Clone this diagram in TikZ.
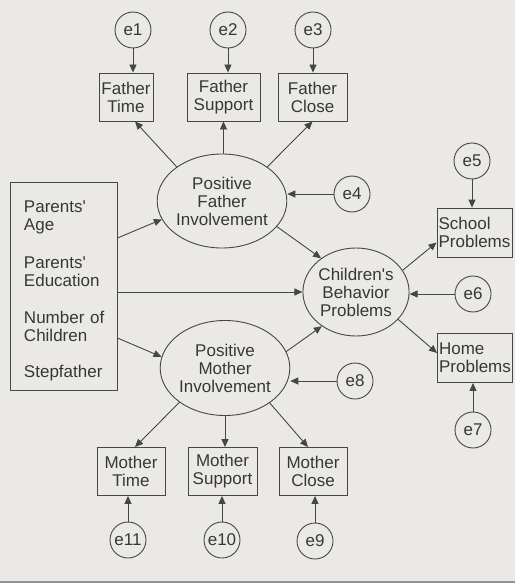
\documentclass[tikz,border=0pt]{standalone}
\usepackage{fontspec}
\setmainfont{Liberation Sans}
\usetikzlibrary{arrows.meta,shapes.geometric}
\definecolor{bg}{RGB}{234,233,229}
\definecolor{ink}{RGB}{70,70,70}
\definecolor{txt}{RGB}{55,55,55}
\begin{document}
\begin{tikzpicture}[x=1pt,y=-1pt,
  every node/.style={font=\fontsize{17}{18}\selectfont, text=txt},
  obs/.style={draw=ink, line width=0.9pt, rectangle, inner sep=0pt, minimum height=48pt, align=center},
  lat/.style={draw=ink, line width=0.9pt, ellipse, inner sep=0pt, align=center},
  err/.style={draw=ink, line width=0.9pt, circle, inner sep=0pt, minimum size=36pt},
  arr/.style={draw=ink, line width=0.9pt, -{Triangle[length=8pt,width=7pt]}},
]
\fill[bg] (0,0) rectangle (515,583);
\useasboundingbox (0,0) rectangle (515,583);

% error terms
\node[err] (e1) at (133,30) {e1};
\node[err] (e2) at (228,30) {e2};
\node[err] (e3) at (313,30) {e3};
\node[err] (e4) at (352,194) {e4};
\node[err] (e5) at (472,161) {e5};
\node[err] (e6) at (473,294) {e6};
\node[err] (e7) at (473,430) {e7};
\node[err] (e8) at (355,381) {e8};
\node[err] (e9) at (315,541) {e9};
\node[err] (e10) at (222,540) {e10};
\node[err] (e11) at (128,540) {e11};

% observed
\node[obs, minimum width=54pt] (ft) at (126,97) {Father\\Time};
\node[obs, minimum width=73pt] (fs) at (223.5,97) {Father\\Support};
\node[obs, minimum width=69pt] (fc) at (312.5,97) {Father\\Close};
\node[obs, minimum width=68pt] (mt) at (131,471.5) {Mother\\Time};
\node[obs, minimum width=69pt] (ms) at (222.5,471.5) {Mother\\Support};
\node[obs, minimum width=68pt] (mc) at (313,471.5) {Mother\\Close};
\node[obs, minimum width=75pt, minimum height=49pt, align=left] (sp) at (474.5,232.5) {School\\Problems};
\node[obs, minimum width=75pt, minimum height=49pt, align=left] (hp) at (475,358) {Home\\Problems};
\node[obs, minimum width=107pt, minimum height=208pt, align=left, text width=82pt] (cov) at (63.5,286)
  {\rule{0pt}{22pt}\hspace*{1.5pt}Parents\textquotesingle\\\hspace*{1.5pt}Age\\[20pt]\hspace*{1.5pt}Parents\textquotesingle\\\hspace*{1.5pt}Education\\[19pt]\hspace*{1.5pt}Number~of\\\hspace*{1.5pt}Children\\[18pt]\hspace*{1.5pt}Stepfather};

% latent
\node[lat, minimum width=112pt, minimum height=94pt] (fi) at (222,201) {Positive\\Father\\Involvement};
\node[lat, minimum width=114pt, minimum height=95pt] (mi) at (225,368) {Positive\\Mother\\Involvement};
\node[lat, minimum width=96pt, minimum height=88pt] (ch) at (356,292) {Children\textquotesingle s\\Behavior\\Problems};

% connectors
\draw[arr] (e1) -- (e1 |- ft.north);
\draw[arr] (e2) -- (e2 |- fs.north);
\draw[arr] (e3) -- (e3 |- fc.north);
\draw[arr] (fi.143) -- ([xshift=9pt]ft.south);
\draw[arr] (fs.south |- fi.north) -- (fs.south);
\draw[arr] (fi.37) -- (fc.south);
\draw[arr] (e4) -- (e4 -| fi.east);
\draw[arr] ([yshift=48pt]cov.east) -- (fi.197);
\draw[arr] (cov.east |- ch.west) -- (ch.west);
\draw[arr] ([yshift=-52pt]cov.east) -- (mi.170);
\draw[arr] (fi.335) -- (ch.136);
\draw[arr] (mi.15) -- (ch.225);
\draw[arr] (e6) -- (e6 -| ch.east);
\draw[arr] (ch.25) -- ([yshift=-10pt]sp.west);
\draw[arr] (ch.327) -- ([yshift=5pt]hp.west);
\draw[arr] (e5) -- (e5 |- sp.north);
\draw[arr] (e7) -- (e7 |- hp.south);
\draw[arr] (e8) -- (e8 -| mi.east);
\draw[arr] (mi.217) -- ([xshift=4pt]mt.north);
\draw[arr] (mi.south) -- (mi.south |- ms.north);
\draw[arr] (mi.322) -- ([xshift=-5pt]mc.north);
\draw[arr] (e11) -- (e11 |- mt.south);
\draw[arr] (e10) -- (e10 |- ms.south);
\draw[arr] (e9) -- (e9 |- mc.south);

\draw[ink!60, line width=2pt] (0,581.5) -- (515,581.5);
\end{tikzpicture}
\end{document}
